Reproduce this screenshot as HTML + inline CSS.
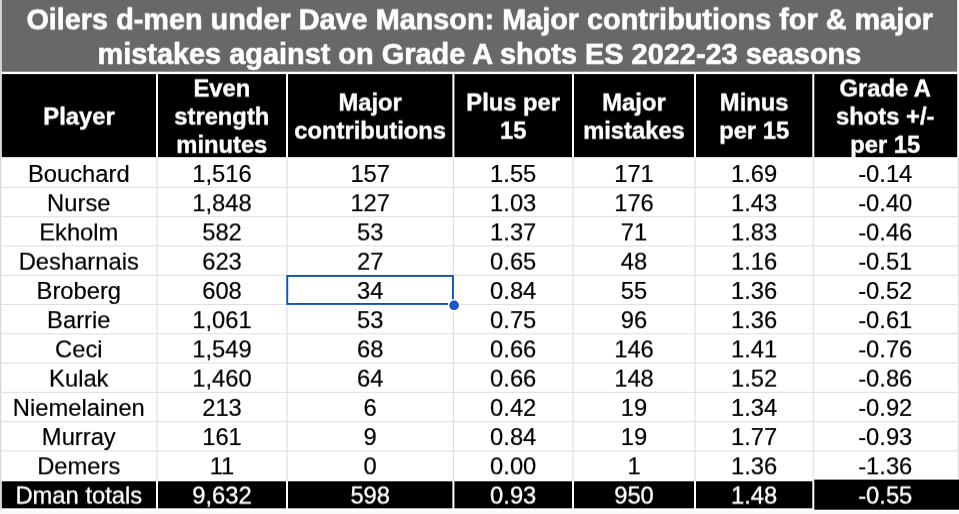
<!DOCTYPE html>
<html lang="en"><head><meta charset="utf-8"><title>Oilers d-men under Dave Manson</title>
<style>
html,body{margin:0;padding:0;background:#fff}
body{width:959px;height:514px;overflow:hidden}
svg{display:block;position:absolute;left:0;top:0}
text{font-family:"Liberation Sans",Arial,Helvetica,sans-serif;text-anchor:middle;white-space:pre}
.tt{font-size:28.83px;font-weight:700;fill:#fff;stroke:#fff;stroke-width:0.6px}
.t2{font-size:28.9px}
.th{font-size:23.75px;letter-spacing:0px;font-weight:700;fill:#fff;stroke:#fff;stroke-width:0.4px}
.td{font-size:23.75px;fill:#000;stroke:#000;stroke-width:0.2px}
.tf{font-size:23.75px;fill:#fff;stroke:#fff;stroke-width:0.3px}
</style></head><body>
<svg width="959" height="514" viewBox="0 0 959 514">
<defs>
<radialGradient id="dot"><stop offset="0" stop-color="#1c5ede"/><stop offset="0.6" stop-color="#1757d2"/><stop offset="1" stop-color="#0e49b6"/></radialGradient>
<filter id="v2" filterUnits="userSpaceOnUse" x="0" y="0" width="959" height="514" color-interpolation-filters="sRGB"><feConvolveMatrix order="3" kernelMatrix="0 0 0 0 0.90 0 0 0.10 0" divisor="1" edgeMode="none" preserveAlpha="false"/></filter>
<filter id="v4" filterUnits="userSpaceOnUse" x="0" y="0" width="959" height="514" color-interpolation-filters="sRGB"><feConvolveMatrix order="3" kernelMatrix="0 0 0 0 0.80 0 0 0.20 0" divisor="1" edgeMode="none" preserveAlpha="false"/></filter>
<filter id="v5" filterUnits="userSpaceOnUse" x="0" y="0" width="959" height="514" color-interpolation-filters="sRGB"><feConvolveMatrix order="3" kernelMatrix="0 0 0 0 0.75 0 0 0.25 0" divisor="1" edgeMode="none" preserveAlpha="false"/></filter>
<filter id="v7" filterUnits="userSpaceOnUse" x="0" y="0" width="959" height="514" color-interpolation-filters="sRGB"><feConvolveMatrix order="3" kernelMatrix="0 0 0 0 0.65 0 0 0.35 0" divisor="1" edgeMode="none" preserveAlpha="false"/></filter>
<filter id="v8" filterUnits="userSpaceOnUse" x="0" y="0" width="959" height="514" color-interpolation-filters="sRGB"><feConvolveMatrix order="3" kernelMatrix="0 0 0 0 0.60 0 0 0.40 0" divisor="1" edgeMode="none" preserveAlpha="false"/></filter>
<filter id="v9" filterUnits="userSpaceOnUse" x="0" y="0" width="959" height="514" color-interpolation-filters="sRGB"><feConvolveMatrix order="3" kernelMatrix="0 0 0 0 0.55 0 0 0.45 0" divisor="1" edgeMode="none" preserveAlpha="false"/></filter>
<filter id="v10" filterUnits="userSpaceOnUse" x="0" y="0" width="959" height="514" color-interpolation-filters="sRGB"><feConvolveMatrix order="3" kernelMatrix="0 0 0 0 0.50 0 0 0.50 0" divisor="1" edgeMode="none" preserveAlpha="false"/></filter>
<filter id="v12" filterUnits="userSpaceOnUse" x="0" y="0" width="959" height="514" color-interpolation-filters="sRGB"><feConvolveMatrix order="3" kernelMatrix="0 0 0 0 0.40 0 0 0.60 0" divisor="1" edgeMode="none" preserveAlpha="false"/></filter>
<filter id="v13" filterUnits="userSpaceOnUse" x="0" y="0" width="959" height="514" color-interpolation-filters="sRGB"><feConvolveMatrix order="3" kernelMatrix="0 0 0 0 0.35 0 0 0.65 0" divisor="1" edgeMode="none" preserveAlpha="false"/></filter>
<filter id="v14" filterUnits="userSpaceOnUse" x="0" y="0" width="959" height="514" color-interpolation-filters="sRGB"><feConvolveMatrix order="3" kernelMatrix="0 0 0 0 0.30 0 0 0.70 0" divisor="1" edgeMode="none" preserveAlpha="false"/></filter>
<filter id="v16" filterUnits="userSpaceOnUse" x="0" y="0" width="959" height="514" color-interpolation-filters="sRGB"><feConvolveMatrix order="3" kernelMatrix="0 0 0 0 0.20 0 0 0.80 0" divisor="1" edgeMode="none" preserveAlpha="false"/></filter>
<filter id="v18" filterUnits="userSpaceOnUse" x="0" y="0" width="959" height="514" color-interpolation-filters="sRGB"><feConvolveMatrix order="3" kernelMatrix="0 0 0 0 0.10 0 0 0.90 0" divisor="1" edgeMode="none" preserveAlpha="false"/></filter>
<filter id="v19" filterUnits="userSpaceOnUse" x="0" y="0" width="959" height="514" color-interpolation-filters="sRGB"><feConvolveMatrix order="3" kernelMatrix="0 0 0 0 0.05 0 0 0.95 0" divisor="1" edgeMode="none" preserveAlpha="false"/></filter>
</defs>
<rect x="0.00" y="0.00" width="959.00" height="514.00" fill="#fff"/>
<rect x="0.00" y="0.00" width="1.20" height="514.00" fill="#d6d6d6"/>
<rect x="0.00" y="510.60" width="959.00" height="3.40" fill="#f9f9f7"/>
<rect x="1.70" y="0.00" width="955.50" height="71.70" fill="#686868"/>
<rect x="1.80" y="74.10" width="154.20" height="83.05" fill="#000"/>
<rect x="158.00" y="74.10" width="128.00" height="83.05" fill="#000"/>
<rect x="288.00" y="74.10" width="164.40" height="83.05" fill="#000"/>
<rect x="454.40" y="74.10" width="117.60" height="83.05" fill="#000"/>
<rect x="574.00" y="74.10" width="120.00" height="83.05" fill="#000"/>
<rect x="696.00" y="74.10" width="116.30" height="83.05" fill="#000"/>
<rect x="814.30" y="74.10" width="142.90" height="83.05" fill="#000"/>
<rect x="1.70" y="186.88" width="957.30" height="1.10" fill="#e0e0e0"/>
<rect x="1.70" y="216.15" width="957.30" height="1.10" fill="#e0e0e0"/>
<rect x="1.70" y="245.42" width="957.30" height="1.10" fill="#e0e0e0"/>
<rect x="1.70" y="274.69" width="957.30" height="1.10" fill="#e0e0e0"/>
<rect x="1.70" y="303.96" width="957.30" height="1.10" fill="#e0e0e0"/>
<rect x="1.70" y="333.23" width="957.30" height="1.10" fill="#e0e0e0"/>
<rect x="1.70" y="362.50" width="957.30" height="1.10" fill="#e0e0e0"/>
<rect x="1.70" y="391.77" width="957.30" height="1.10" fill="#e0e0e0"/>
<rect x="1.70" y="421.04" width="957.30" height="1.10" fill="#e0e0e0"/>
<rect x="1.70" y="450.31" width="957.30" height="1.10" fill="#e0e0e0"/>
<rect x="156.40" y="157.15" width="1.20" height="324.15" fill="#e0e0e0"/>
<rect x="286.40" y="157.15" width="1.20" height="324.15" fill="#e0e0e0"/>
<rect x="452.80" y="157.15" width="1.20" height="324.15" fill="#e0e0e0"/>
<rect x="572.40" y="157.15" width="1.20" height="324.15" fill="#e0e0e0"/>
<rect x="694.40" y="157.15" width="1.20" height="324.15" fill="#e0e0e0"/>
<rect x="812.70" y="157.15" width="1.20" height="324.15" fill="#e0e0e0"/>
<rect x="957.70" y="157.65" width="1.30" height="321.65" fill="#e0e0e0"/>
<rect x="1.80" y="481.30" width="154.20" height="27.00" fill="#000"/>
<rect x="158.00" y="481.30" width="128.00" height="27.00" fill="#000"/>
<rect x="288.00" y="481.30" width="164.40" height="27.00" fill="#000"/>
<rect x="454.40" y="481.30" width="117.60" height="27.00" fill="#000"/>
<rect x="574.00" y="481.30" width="120.00" height="27.00" fill="#000"/>
<rect x="696.00" y="481.30" width="116.30" height="27.00" fill="#000"/>
<rect x="814.30" y="479.60" width="144.70" height="30.10" fill="#000"/>
<g>
<text class="td" x="78.80" y="182">Bouchard</text>
<text class="td" x="222.00" y="182">1,516</text>
<text class="td" x="370.20" y="182">157</text>
<text class="td" x="513.20" y="182">1.55</text>
<text class="td" x="634.00" y="182">171</text>
<text class="td" x="754.15" y="182">1.69</text>
<text class="td" x="885.25" y="182">-0.14</text>
</g>
<g filter="url(#v2)">
<text class="td" x="78.80" y="445">Murray</text>
<text class="td" x="222.00" y="445">161</text>
<text class="td" x="370.20" y="445">9</text>
<text class="td" x="513.20" y="445">0.84</text>
<text class="td" x="634.00" y="445">19</text>
<text class="td" x="754.15" y="445">1.77</text>
<text class="td" x="885.25" y="445">-0.93</text>
</g>
<g filter="url(#v4)">
<text class="td" x="78.80" y="328">Barrie</text>
<text class="td" x="222.00" y="328">1,061</text>
<text class="td" x="370.20" y="328">53</text>
<text class="td" x="513.20" y="328">0.75</text>
<text class="td" x="634.00" y="328">96</text>
<text class="td" x="754.15" y="328">1.36</text>
<text class="td" x="885.25" y="328">-0.61</text>
</g>
<g filter="url(#v5)">
<text class="td" x="78.80" y="211">Nurse</text>
<text class="td" x="222.00" y="211">1,848</text>
<text class="td" x="370.20" y="211">127</text>
<text class="td" x="513.20" y="211">1.03</text>
<text class="td" x="634.00" y="211">176</text>
<text class="td" x="754.15" y="211">1.43</text>
<text class="td" x="885.25" y="211">-0.40</text>
</g>
<g filter="url(#v7)">
<text class="td" x="78.80" y="474">Demers</text>
<text class="td" x="222.00" y="474">11</text>
<text class="td" x="370.20" y="474">0</text>
<text class="td" x="513.20" y="474">0.00</text>
<text class="td" x="634.00" y="474">1</text>
<text class="td" x="754.15" y="474">1.36</text>
<text class="td" x="885.25" y="474">-1.36</text>
</g>
<g filter="url(#v8)">
<text class="tt" x="479.70" y="29">Oilers d-men under Dave Manson: Major contributions for &amp; major</text>
<text class="td" x="78.80" y="357">Ceci</text>
<text class="td" x="222.00" y="357">1,549</text>
<text class="td" x="370.20" y="357">68</text>
<text class="td" x="513.20" y="357">0.66</text>
<text class="td" x="634.00" y="357">146</text>
<text class="td" x="754.15" y="357">1.41</text>
<text class="td" x="885.25" y="357">-0.76</text>
</g>
<g filter="url(#v9)">
<text class="td" x="78.80" y="240">Ekholm</text>
<text class="td" x="222.00" y="240">582</text>
<text class="td" x="370.20" y="240">53</text>
<text class="td" x="513.20" y="240">1.37</text>
<text class="td" x="634.00" y="240">71</text>
<text class="td" x="754.15" y="240">1.83</text>
<text class="td" x="885.25" y="240">-0.46</text>
</g>
<g filter="url(#v10)">
<text class="th" x="221.80" y="96">Even</text>
<text class="th" x="885.25" y="96">Grade A</text>
</g>
<g filter="url(#v12)">
<text class="th" x="79.00" y="124">Player</text>
<text class="th" x="221.80" y="124">strength</text>
<text class="th" x="370.20" y="110">Major</text>
<text class="th" x="513.20" y="110">Plus per</text>
<text class="th" x="634.00" y="110">Major</text>
<text class="th" x="754.15" y="110">Minus</text>
<text class="th" x="885.25" y="124">shots +/-</text>
<text class="tf" x="78.80" y="503">Dman totals</text>
<text class="tf" x="222.00" y="503">9,632</text>
<text class="tf" x="370.20" y="503">598</text>
<text class="tf" x="513.20" y="503">0.93</text>
<text class="tf" x="634.00" y="503">950</text>
<text class="tf" x="754.15" y="503">1.48</text>
<text class="tf" x="885.25" y="503">-0.55</text>
</g>
<g filter="url(#v13)">
<text class="td" x="78.80" y="386">Kulak</text>
<text class="td" x="222.00" y="386">1,460</text>
<text class="td" x="370.20" y="386">64</text>
<text class="td" x="513.20" y="386">0.66</text>
<text class="td" x="634.00" y="386">148</text>
<text class="td" x="754.15" y="386">1.52</text>
<text class="td" x="885.25" y="386">-0.86</text>
</g>
<g filter="url(#v14)">
<text class="th" x="370.20" y="138">contributions</text>
<text class="th" x="513.20" y="138">15</text>
<text class="th" x="634.00" y="138">mistakes</text>
<text class="th" x="754.15" y="138">per 15</text>
<text class="td" x="78.80" y="269">Desharnais</text>
<text class="td" x="222.00" y="269">623</text>
<text class="td" x="370.20" y="269">27</text>
<text class="td" x="513.20" y="269">0.65</text>
<text class="td" x="634.00" y="269">48</text>
<text class="td" x="754.15" y="269">1.16</text>
<text class="td" x="885.25" y="269">-0.51</text>
</g>
<g filter="url(#v16)">
<text class="th" x="221.80" y="152">minutes</text>
<text class="th" x="885.25" y="152">per 15</text>
</g>
<g filter="url(#v18)">
<text class="tt t2" x="479.40" y="63">mistakes against on Grade A shots ES 2022-23 seasons</text>
<text class="td" x="78.80" y="415">Niemelainen</text>
<text class="td" x="222.00" y="415">213</text>
<text class="td" x="370.20" y="415">6</text>
<text class="td" x="513.20" y="415">0.42</text>
<text class="td" x="634.00" y="415">19</text>
<text class="td" x="754.15" y="415">1.34</text>
<text class="td" x="885.25" y="415">-0.92</text>
</g>
<g filter="url(#v19)">
<text class="td" x="78.80" y="298">Broberg</text>
<text class="td" x="222.00" y="298">608</text>
<text class="td" x="370.20" y="298">34</text>
<text class="td" x="513.20" y="298">0.84</text>
<text class="td" x="634.00" y="298">55</text>
<text class="td" x="754.15" y="298">1.36</text>
<text class="td" x="885.25" y="298">-0.52</text>
</g>
<rect x="287.25" y="275.95" width="165.70" height="28.00" fill="none" stroke="#0e54b8" stroke-width="1.9"/>
<circle cx="454.1" cy="305.3" r="6.3" fill="#fff"/>
<circle cx="454.1" cy="305.3" r="4.8" fill="url(#dot)"/>
</svg></body></html>
